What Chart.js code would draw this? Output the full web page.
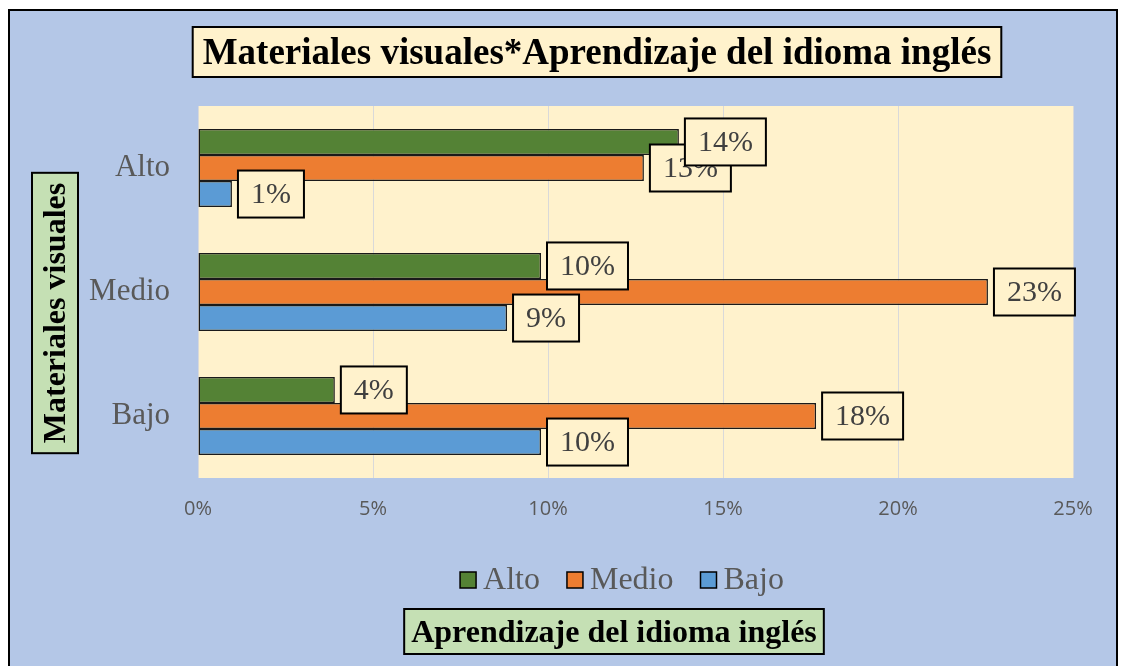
<!DOCTYPE html>
<html>
<head>
<meta charset="utf-8">
<script src="https://cdn.jsdelivr.net/npm/chart.js@4.4.1/dist/chart.umd.min.js"></script>
<style>
body{margin:0;background:#fff}
#wrap{width:1123px;height:666px;position:relative}
</style>
</head>
<body>
<div id="wrap"><canvas id="chart" width="1123" height="666"></canvas></div>
<script>
// data
const categories = ["Alto", "Medio", "Bajo"]
const seriesNames = ["Alto", "Medio", "Bajo"]
const altoValues = [13.74, 9.8, 3.91]
const medioValues = [12.74, 22.57, 17.66]
const bajoValues = [0.97, 8.83, 9.8]
const xTicks = [0, 5, 10, 15, 20, 25]

const titleText = "Materiales visuales*Aprendizaje del idioma inglés"
const yTitleText = "Materiales visuales"
const xTitleText = "Aprendizaje del idioma inglés"

const colors = ["#548235", "#ed7d31", "#5b9bd5"]
const serif = "'Liberation Serif', 'Times New Roman', serif"

function box(ctx, x, y, w, h, fill){
  ctx.fillStyle = fill
  ctx.fillRect(x, y, w, h)
  ctx.strokeStyle = "#000"
  ctx.lineWidth = 2
  ctx.strokeRect(x, y, w, h)
}

// background, frame, title, axis titles, legend
const decor = {
  id: "decor",
  beforeDraw(chart){
    let ctx = chart.ctx
    ctx.save()
    ctx.fillStyle = "#fff"
    ctx.fillRect(0, 0, 1123, 666)
    ctx.fillStyle = "#b4c7e7"
    ctx.fillRect(9, 10, 1108, 680)
    ctx.strokeStyle = "#000"
    ctx.lineWidth = 2
    ctx.strokeRect(9, 10, 1108, 680)
    let a = chart.chartArea
    ctx.fillStyle = "#fff2cc"
    ctx.fillRect(a.left, a.top, a.right - a.left, a.bottom - a.top)
    ctx.restore()
  },
  afterDraw(chart){
    let ctx = chart.ctx
    ctx.save()
    ctx.textBaseline = "middle"
    ctx.textAlign = "center"

    // title
    ctx.font = "bold 37px " + serif
    let tw = ctx.measureText(titleText).width
    box(ctx, 597 - tw/2 - 10, 27, tw + 20, 50, "#fff2cc")
    ctx.fillStyle = "#000"
    ctx.fillText(titleText, 597, 54)

    // x axis title
    ctx.font = "bold 32px " + serif
    tw = ctx.measureText(xTitleText).width
    box(ctx, 614 - tw/2 - 7, 609, tw + 14, 45, "#c5e0b4")
    ctx.fillStyle = "#000"
    ctx.fillText(xTitleText, 614, 634)

    // y axis title
    ctx.font = "bold 32px " + serif
    tw = ctx.measureText(yTitleText).width
    box(ctx, 32, 313 - tw/2 - 10, 46, tw + 20, "#c5e0b4")
    ctx.translate(57, 313)
    ctx.rotate(-Math.PI/2)
    ctx.fillStyle = "#000"
    ctx.fillText(yTitleText, 0, 0)
    ctx.setTransform(1, 0, 0, 1, 0, 0)

    // legend
    ctx.font = "32px " + serif
    ctx.textAlign = "left"
    let sq = 16, gap = 7, between = 27
    let widths = seriesNames.map(n => sq + gap + ctx.measureText(n).width)
    let total = widths.reduce((s, w) => s + w, 0) + between * (seriesNames.length - 1)
    let x = 622 - total/2
    chart.data.datasets.forEach((ds, i) => {
      ctx.fillStyle = ds.backgroundColor
      ctx.fillRect(x, 572, sq, sq)
      ctx.strokeStyle = "#000"
      ctx.lineWidth = 1.5
      ctx.strokeRect(x, 572, sq, sq)
      ctx.fillStyle = "#595959"
      ctx.fillText(ds.label, x + sq + gap, 581)
      x += widths[i] + between
    })
    ctx.restore()
  }
}

// boxed value labels at bar ends
const valueLabels = {
  id: "valueLabels",
  afterDatasetsDraw(chart){
    let ctx = chart.ctx
    ctx.save()
    ctx.font = "30px " + serif
    ctx.textBaseline = "middle"
    ctx.textAlign = "left"
    for(let d = chart.data.datasets.length - 1; d >= 0; d--){
      let meta = chart.getDatasetMeta(d)
      meta.data.forEach((bar, i) => {
        let txt = Math.round(chart.data.datasets[d].data[i]) + "%"
        let w = ctx.measureText(txt).width + 26
        let h = 47
        let x = bar.x + 6
        box(ctx, x, bar.y - h/2, w, h, "#fff2cc")
        ctx.fillStyle = "#404040"
        ctx.fillText(txt, x + 13, bar.y + 1)
      })
    }
    ctx.restore()
  }
}

new Chart(document.getElementById("chart"), {
  type: "bar",
  data: {
    labels: categories,
    datasets: [
      {label: seriesNames[0], data: altoValues, backgroundColor: colors[0]},
      {label: seriesNames[1], data: medioValues, backgroundColor: colors[1]},
      {label: seriesNames[2], data: bajoValues, backgroundColor: colors[2]}
    ]
  },
  options: {
    indexAxis: "y",
    responsive: false,
    animation: false,
    devicePixelRatio: 1,
    layout: {padding: {top: 106, right: 50, left: 0, bottom: 0}},
    datasets: {
      bar: {categoryPercentage: 0.63, barPercentage: 1, borderColor: "#1a1a1a", borderWidth: 1.5, borderSkipped: false}
    },
    plugins: {legend: {display: false}, tooltip: {enabled: false}, title: {display: false}},
    scales: {
      x: {
        min: 0, max: 25,
        afterFit(s){ s.height = 188 },
        afterBuildTicks(s){ s.ticks = xTicks.map(v => ({value: v})) },
        grid: {color: "#d9d9d9", drawTicks: false},
        border: {display: false},
        ticks: {
          padding: 19,
          color: "#595959",
          font: {family: "'Open Sans', sans-serif", size: 20},
          callback: v => v + "%"
        }
      },
      y: {
        afterFit(s){ s.width = 198 },
        grid: {display: false, drawTicks: false},
        border: {display: false},
        ticks: {
          padding: 28,
          color: "#595959",
          font: {family: serif, size: 31}
        }
      }
    }
  },
  plugins: [decor, valueLabels]
})
</script>
</body>
</html>
